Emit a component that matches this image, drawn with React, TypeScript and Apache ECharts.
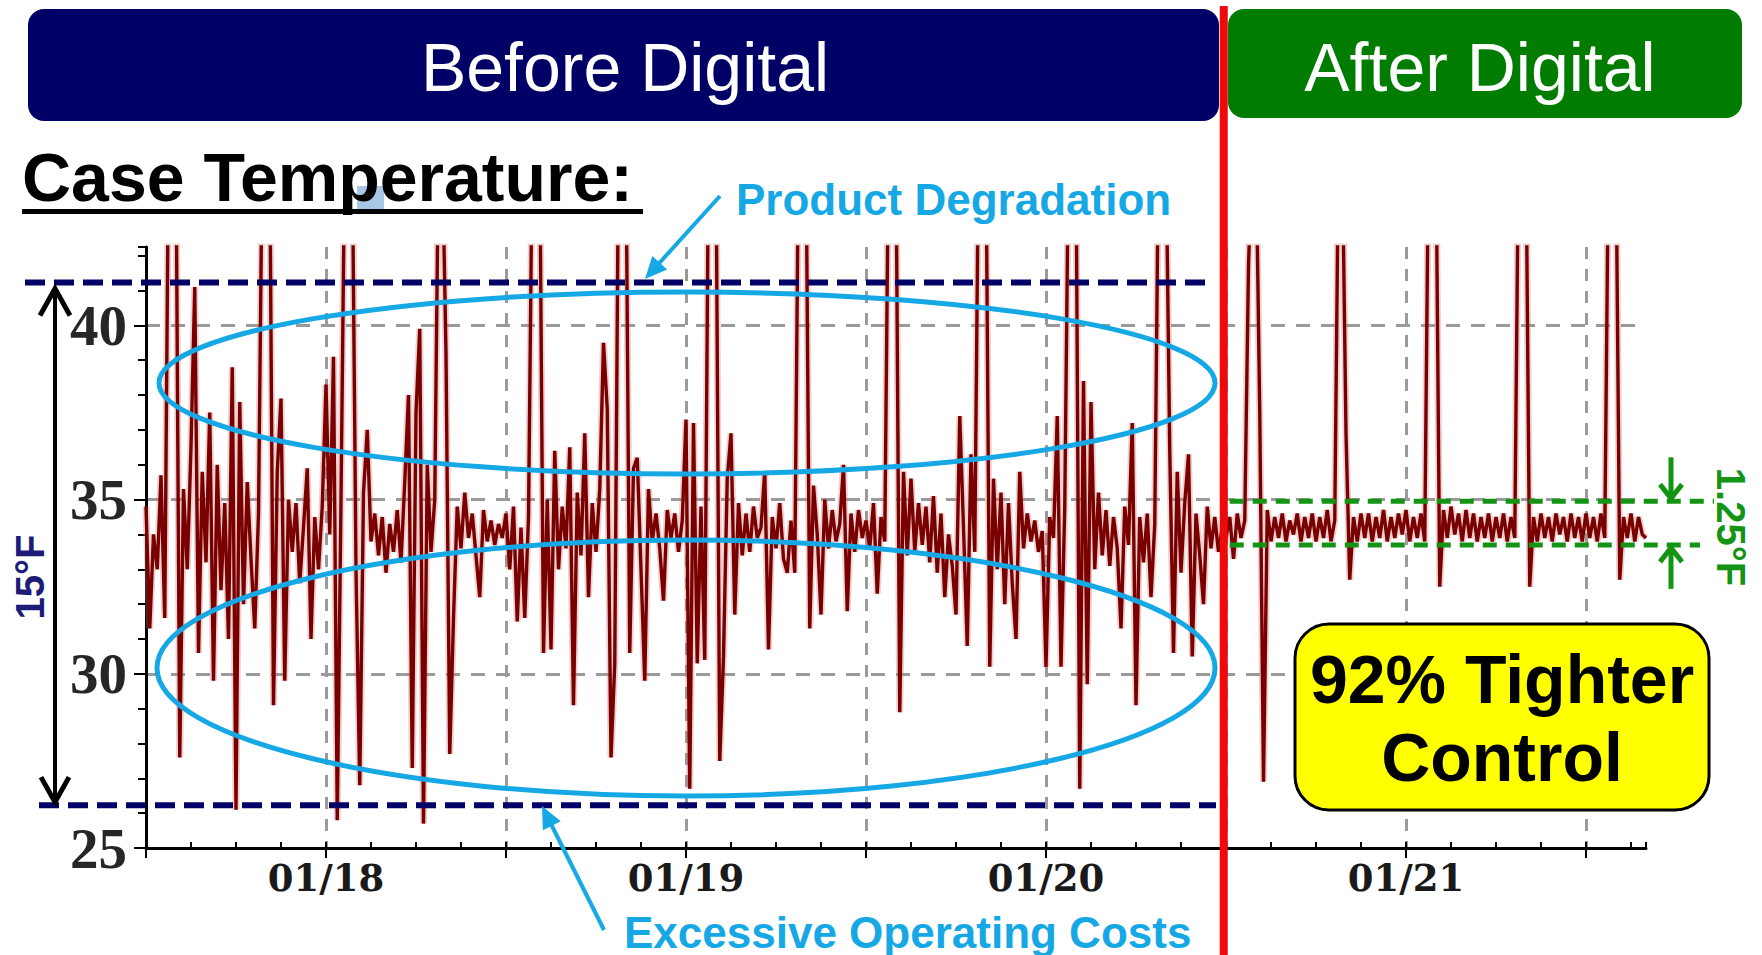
import React, { useEffect, useRef } from "react";
import * as echarts from "echarts";

// Hours are counted from 01/17 00:00; samples every 15 minutes starting 01/17 12:00
const START_HOUR = 12;
const STEP_HOURS = 0.25;
const END_HOUR = 112;

// Case temperature (°F)
const jan17Temps = [
  34.8, 31.3, 34.0, 33.0, 35.7, 31.6, 45, 45, 45, 27.6,
  35.3, 33.0, 36.5, 41.1, 30.6, 35.8, 33.2, 37.5, 29.8, 36.0,
  32.4, 34.9, 31.0, 38.8, 26.1, 37.8, 32.0, 35.5, 33.3, 31.3,
  34.6, 45, 45, 45, 29.1, 35.8, 37.9, 29.8, 35.0, 33.5,
  34.9, 32.6, 34.2, 35.9, 31.0, 34.5, 33.0, 34.8,
];
const jan18Temps = [
  38.3, 34.0, 39.1, 25.8, 35.0, 45, 45, 45, 33.0, 26.8,
  35.2, 37.0, 33.8, 34.6, 33.4, 34.5, 32.9, 34.3, 33.5, 34.7,
  33.2, 35.5, 38.0, 27.3, 37.5, 39.9, 25.7, 36.0, 33.5, 35.0,
  45, 45, 39.2, 27.7, 31.6, 34.8, 33.6, 35.2, 33.9, 34.6,
  33.4, 32.2, 34.7, 33.8, 34.4, 33.7, 34.3, 33.9, 34.6, 33.0,
  34.8, 31.5, 34.2, 31.6, 34.5, 45, 45, 45, 30.6, 35.0,
  30.7, 36.4, 33.0, 34.8, 33.6, 36.5, 29.1, 35.2, 33.4, 36.9,
  32.2, 34.9, 33.5, 35.3, 39.5, 37.6, 27.6, 30.3, 45, 45,
  45, 30.6, 35.9, 36.2, 33.0, 29.8, 35.3, 33.8, 34.6, 33.6,
  32.1, 34.7, 33.9, 34.6, 33.5, 34.4,
];
const jan19Temps = [
  37.3, 26.7, 37.2, 30.3, 34.8, 30.4, 45, 45, 45, 27.5,
  30.5, 35.6, 36.9, 31.7, 34.9, 33.4, 34.6, 33.5, 34.8, 33.9,
  34.2, 35.8, 30.7, 34.5, 33.6, 34.9, 33.3, 32.9, 34.4, 32.9,
  45, 45, 45, 31.3, 35.4, 34.0, 31.7, 35.0, 33.6, 34.7,
  33.8, 34.3, 36.0, 31.8, 34.6, 33.5, 34.7, 33.9, 34.4, 33.6,
  34.9, 32.3, 34.5, 33.8, 45, 45, 45, 28.9, 35.8, 33.4,
  35.6, 33.5, 34.9, 33.7, 34.8, 33.2, 35.1, 32.9, 34.6, 32.2,
  34.0, 33.1, 31.7, 37.4, 34.2, 30.8, 36.3, 33.5, 45, 45,
  45, 30.2, 35.6, 33.0, 35.2, 32.0, 34.9, 32.6, 31.0, 35.8,
  33.6, 34.6, 33.8, 34.4, 33.5, 34.1,
];
const jan20BeforeTemps = [
  30.2, 34.5, 33.9, 37.4, 30.2, 34.8, 45, 45, 45, 26.7,
  38.4, 29.7, 37.8, 33.0, 35.2, 33.4, 34.7, 33.1, 34.5, 33.6,
  31.3, 34.8, 33.7, 37.2, 29.1, 34.5, 33.2, 34.6, 32.2, 34.3,
  45, 45, 45, 36.4, 30.6, 35.8, 32.9, 34.9, 36.3, 30.5,
  34.6, 33.4, 32.0, 34.8, 33.6, 34.5, 33.5, 34.2, 33.9,
];
const afterTemps = [
  34.5, 33.3, 34.6, 33.9, 34.4, 41.7, 45, 45, 37.5, 26.9,
  34.7, 33.8, 34.5, 33.9, 34.6, 33.8, 34.4, 34.0, 34.6, 33.8,
  34.5, 33.9, 34.6, 33.8, 34.5, 33.9, 34.7, 33.8, 34.4, 45,
  45, 36.9, 32.7, 34.5, 33.8, 34.6, 33.9, 34.6, 33.8, 34.5,
  33.9, 34.7, 33.8, 34.5, 33.9, 34.6, 34.0, 34.7, 33.8, 34.5,
  33.9, 34.6, 33.8, 45, 45, 45, 32.5, 34.7, 33.9, 34.8,
  34.0, 34.6, 33.8, 34.7, 33.9, 34.6, 33.8, 34.5, 33.9, 34.6,
  33.8, 34.5, 33.9, 34.6, 33.8, 34.5, 33.9, 45, 45, 45,
  32.5, 34.5, 33.8, 34.6, 33.9, 34.5, 33.8, 34.6, 34.0, 34.5,
  33.8, 34.6, 33.9, 34.5, 33.8, 34.6, 33.9, 34.5, 33.8, 34.6,
  33.9, 45, 45, 45, 32.7, 34.5, 33.9, 34.6, 33.8, 34.5,
  34.0, 33.9,
];

const dayLabels = ["01/17", "01/18", "01/19", "01/20", "01/21"];
const Y_MIN = 25;
const Y_MAX = 42.25;
const Y_INTERVAL = 5;

// Annotation levels
const CHANGEOVER_HOUR = 83.85;
const BEFORE_BAND_TOP = 41.23;
const BEFORE_BAND_BOTTOM = 26.23;
const AFTER_BAND_TOP = 34.95;
const AFTER_BAND_BOTTOM = 33.7;

const NAVY = "#000066";
const CYAN = "#16a8e4";
const GREEN = "#149414";
const DARK_RED = "#7a0000";

function arrowHead(tx: number, ty: number, fx: number, fy: number, len: number, half: number) {
  const dx = tx - fx;
  const dy = ty - fy;
  const L = Math.hypot(dx, dy);
  const ux = dx / L;
  const uy = dy / L;
  const bx = tx - ux * len;
  const by = ty - uy * len;
  return [
    [tx, ty],
    [bx - uy * half, by + ux * half],
    [bx + uy * half, by - ux * half],
  ];
}

export default function App() {
  const ref = useRef<HTMLDivElement>(null);

  useEffect(() => {
    const el = ref.current;
    if (!el) return;
    const chart = echarts.init(el, null, { renderer: "svg" });

    const temps = [...jan17Temps, ...jan18Temps, ...jan19Temps, ...jan20BeforeTemps, ...afterTemps];
    const data = temps.map((v, i) => [START_HOUR + i * STEP_HOURS, v]);

    chart.setOption({
      animation: false,
      backgroundColor: "#ffffff",
      grid: { left: 146, top: 247, width: 1500, height: 601, containLabel: false, outerBoundsMode: "none" },
      xAxis: [
        {
          type: "value",
          min: START_HOUR,
          max: END_HOUR,
          interval: 12,
          axisLine: { show: true, onZero: false, lineStyle: { color: "#000", width: 3 } },
          axisTick: { show: true, length: 10, lineStyle: { color: "#000", width: 2 } },
          axisLabel: {
            show: true,
            margin: 11,
            showMaxLabel: false,
            fontFamily: "DejaVu Serif",
            fontWeight: "bold",
            fontSize: 37,
            color: "#1a1a1a",
            formatter: (v: number) => (v % 24 === 0 ? dayLabels[v / 24] ?? "" : ""),
          },
          splitLine: {
            show: true,
            showMinLine: false,
            showMaxLine: false,
            lineStyle: { color: "#9a9a9a", width: 3, type: [12, 10] },
          },
        },
        {
          type: "value",
          position: "bottom",
          min: START_HOUR,
          max: END_HOUR,
          interval: 3,
          axisLine: { show: false },
          axisTick: { show: true, inside: true, length: 6, lineStyle: { color: "#000", width: 2 } },
          axisLabel: { show: false },
          splitLine: { show: false },
        },
      ],
      yAxis: [
        {
          type: "value",
          min: Y_MIN,
          max: Y_MAX,
          interval: Y_INTERVAL,
          axisLine: { show: true, onZero: false, lineStyle: { color: "#000", width: 3 } },
          axisTick: { show: true, length: 12, lineStyle: { color: "#000", width: 2 } },
          axisLabel: {
            show: true,
            margin: 19,
            showMaxLabel: false,
            fontFamily: "Liberation Serif",
            fontWeight: "bold",
            fontSize: 57,
            color: "#262626",
          },
          splitLine: {
            show: true,
            showMinLine: false,
            showMaxLine: false,
            lineStyle: { color: "#9a9a9a", width: 3, type: [14, 11] },
          },
        },
        {
          type: "value",
          position: "left",
          offset: 0,
          min: Y_MIN,
          max: Y_MAX,
          interval: 1,
          axisLine: { show: false },
          axisTick: { show: true, length: 8, lineStyle: { color: "#000", width: 2 } },
          axisLabel: { show: false },
          splitLine: { show: false },
        },
      ],
      series: [
        {
          type: "line",
          data,
          silent: true,
          showSymbol: false,
          symbol: "none",
          clip: true,
          z: 1,
          lineStyle: { color: "rgba(210,120,120,0.35)", width: 7 },
        },
        {
          type: "line",
          data,
          showSymbol: false,
          symbol: "none",
          clip: true,
          z: 2,
          lineStyle: { color: DARK_RED, width: 3.4 },
        },
      ],
    });

    const px = (x: number, y: number) => chart.convertToPixel({ gridIndex: 0 }, [x, y]) as number[];
    const redX = px(CHANGEOVER_HOUR, Y_MIN)[0];
    const yNavyTop = px(START_HOUR, BEFORE_BAND_TOP)[1];
    const yNavyBot = px(START_HOUR, BEFORE_BAND_BOTTOM)[1];
    const yGreenTop = px(START_HOUR, AFTER_BAND_TOP)[1];
    const yGreenBot = px(START_HOUR, AFTER_BAND_BOTTOM)[1];

    const pdFrom = [720, 196];
    const pdTip = [645, 279];
    const eoFrom = [604, 930];
    const eoTip = [542, 806];
    const gx = 1671;
    const bx = 55;

    const graphic: any[] = [
      // Banners
      { type: "rect", z: 20, shape: { x: 28, y: 9, width: 1191, height: 112, r: 16 }, style: { fill: NAVY } },
      {
        type: "text", z: 21, x: 625, y: 67,
        style: { text: "Before Digital", fill: "#fff", fontSize: 68, fontFamily: "Liberation Sans", align: "center", verticalAlign: "middle" },
      },
      { type: "rect", z: 20, shape: { x: 1228, y: 9, width: 514, height: 109, r: 16 }, style: { fill: "#007d00" } },
      {
        type: "text", z: 21, x: 1480, y: 67,
        style: { text: "After Digital", fill: "#fff", fontSize: 68, fontFamily: "Liberation Sans", align: "center", verticalAlign: "middle" },
      },
      // Title
      { type: "rect", z: 19, shape: { x: 357, y: 186, width: 27, height: 24 }, style: { fill: "#a8c6e6" } },
      {
        type: "text", z: 21, x: 22, y: 177,
        style: { text: "Case Temperature:", fill: "#000", fontSize: 68, fontWeight: "bold", fontFamily: "Liberation Sans", align: "left", verticalAlign: "middle" },
      },
      { type: "rect", z: 21, shape: { x: 22, y: 209, width: 621, height: 5 }, style: { fill: "#000" } },
      // Before band (navy dashed) and 15°F arrow
      { type: "line", z: 22, shape: { x1: 25, y1: yNavyTop, x2: 1208, y2: yNavyTop }, style: { stroke: NAVY, lineWidth: 6, lineDash: [20, 9] } },
      { type: "line", z: 22, shape: { x1: 39, y1: yNavyBot, x2: 1216, y2: yNavyBot }, style: { stroke: NAVY, lineWidth: 6, lineDash: [20, 9] } },
      { type: "line", z: 22, shape: { x1: bx, y1: yNavyTop + 7, x2: bx, y2: yNavyBot - 4 }, style: { stroke: "#000", lineWidth: 4 } },
      { type: "polyline", z: 22, shape: { points: [[bx - 15, yNavyTop + 33], [bx, yNavyTop + 6], [bx + 15, yNavyTop + 33]] }, style: { stroke: "#000", lineWidth: 5, fill: "none" } },
      { type: "polyline", z: 22, shape: { points: [[bx - 14, yNavyBot - 28], [bx, yNavyBot - 3], [bx + 14, yNavyBot - 28]] }, style: { stroke: "#000", lineWidth: 5, fill: "none" } },
      {
        type: "text", z: 22, x: 30, y: 577, rotation: Math.PI / 2,
        style: { text: "15°F", fill: "#1c1c78", fontSize: 40, fontWeight: "bold", fontFamily: "Liberation Sans", align: "center", verticalAlign: "middle" },
      },
      // Ellipses
      { type: "ellipse", z: 23, shape: { cx: 687, cy: 383, rx: 528, ry: 91 }, style: { fill: "none", stroke: CYAN, lineWidth: 5 } },
      { type: "ellipse", z: 23, shape: { cx: 686, cy: 668, rx: 529, ry: 128 }, style: { fill: "none", stroke: CYAN, lineWidth: 5 } },
      // Product Degradation
      { type: "line", z: 23, shape: { x1: pdFrom[0], y1: pdFrom[1], x2: pdTip[0] + 8, y2: pdTip[1] - 9 }, style: { stroke: CYAN, lineWidth: 4 } },
      { type: "polygon", z: 23, shape: { points: arrowHead(pdTip[0], pdTip[1], pdFrom[0], pdFrom[1], 22, 10) }, style: { fill: CYAN } },
      {
        type: "text", z: 23, x: 736, y: 199,
        style: { text: "Product Degradation", fill: CYAN, fontSize: 44, fontWeight: "bold", fontFamily: "Liberation Sans", align: "left", verticalAlign: "middle" },
      },
      // Excessive Operating Costs
      { type: "line", z: 23, shape: { x1: eoFrom[0], y1: eoFrom[1], x2: eoTip[0] + 5, y2: eoTip[1] + 10 }, style: { stroke: CYAN, lineWidth: 4 } },
      { type: "polygon", z: 23, shape: { points: arrowHead(eoTip[0], eoTip[1], eoFrom[0], eoFrom[1], 22, 10) }, style: { fill: CYAN } },
      {
        type: "text", z: 23, x: 624, y: 932,
        style: { text: "Excessive Operating Costs", fill: CYAN, fontSize: 44, fontWeight: "bold", fontFamily: "Liberation Sans", align: "left", verticalAlign: "middle" },
      },
      // After band (green dashed) and 1.25°F arrows
      { type: "line", z: 22, shape: { x1: redX + 6, y1: yGreenTop, x2: 1714, y2: yGreenTop }, style: { stroke: GREEN, lineWidth: 5, lineDash: [14, 9] } },
      { type: "line", z: 22, shape: { x1: redX + 6, y1: yGreenBot, x2: 1700, y2: yGreenBot }, style: { stroke: GREEN, lineWidth: 5, lineDash: [14, 9] } },
      { type: "line", z: 22, shape: { x1: gx, y1: yGreenTop - 44, x2: gx, y2: yGreenTop - 3 }, style: { stroke: GREEN, lineWidth: 5 } },
      { type: "polyline", z: 22, shape: { points: [[gx - 11, yGreenTop - 17], [gx, yGreenTop - 3], [gx + 11, yGreenTop - 17]] }, style: { stroke: GREEN, lineWidth: 5, fill: "none" } },
      { type: "line", z: 22, shape: { x1: gx, y1: yGreenBot + 44, x2: gx, y2: yGreenBot + 3 }, style: { stroke: GREEN, lineWidth: 5 } },
      { type: "polyline", z: 22, shape: { points: [[gx - 11, yGreenBot + 17], [gx, yGreenBot + 3], [gx + 11, yGreenBot + 17]] }, style: { stroke: GREEN, lineWidth: 5, fill: "none" } },
      {
        type: "text", z: 22, x: 1731, y: 527, rotation: -Math.PI / 2,
        style: { text: "1.25°F", fill: GREEN, fontSize: 40, fontWeight: "bold", fontFamily: "Liberation Sans", align: "center", verticalAlign: "middle" },
      },
      // Yellow callout
      { type: "rect", z: 24, shape: { x: 1295, y: 624, width: 414, height: 186, r: 34 }, style: { fill: "#ffff00", stroke: "#000", lineWidth: 3 } },
      {
        type: "text", z: 25, x: 1502, y: 679,
        style: { text: "92% Tighter", fill: "#000", fontSize: 68, fontWeight: "bold", fontFamily: "Liberation Sans", align: "center", verticalAlign: "middle" },
      },
      {
        type: "text", z: 25, x: 1502, y: 757,
        style: { text: "Control", fill: "#000", fontSize: 68, fontWeight: "bold", fontFamily: "Liberation Sans", align: "center", verticalAlign: "middle" },
      },
      // Changeover red line
      { type: "line", z: 30, shape: { x1: redX, y1: 6, x2: redX, y2: 955 }, style: { stroke: "#ee0a0a", lineWidth: 8 } },
    ];

    chart.setOption({ graphic });

    return () => chart.dispose();
  }, []);

  return (
    <div
      ref={ref}
      style={{ position: "absolute", left: 0, top: 0, width: 1762, height: 955, background: "#ffffff" }}
    />
  );
}
